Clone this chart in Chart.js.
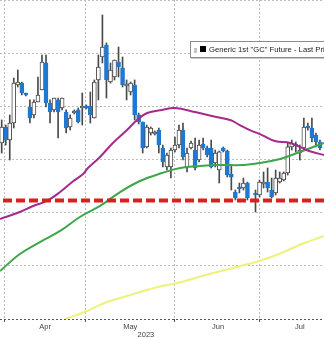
<!DOCTYPE html>
<html>
<head>
<meta charset="utf-8">
<script src="https://cdn.jsdelivr.net/npm/chart.js@4/dist/chart.umd.min.js"></script>
<style>
  html, body { margin: 0; padding: 0; background: #fff; overflow: hidden; }
  #wrap { position: relative; width: 324px; height: 338px; overflow: hidden; }
  #legend {
    position: absolute; left: 190px; top: 41px; width: 160px; height: 15px;
    border: 1px solid #8c8c8c; background: #fff; box-shadow: 1px 1px 0 #c8c8c8;
    font-family: "Liberation Sans", Arial, sans-serif; font-size: 7.7px; line-height: 15px;
    color: #222; white-space: nowrap;
  }
  #legend .g { position: absolute; left: 3px; top: 6px; width: 3px; height: 5px; background: #c4c4c4; }
  #legend .b { position: absolute; left: 9px; top: 4px; width: 6px; height: 6px; background: #000; }
  #legend .t { position: absolute; left: 18px; top: 0; }
</style>
</head>
<body>
<div id="wrap">
  <canvas id="goldCanvas" width="324" height="338"></canvas>
  <div id="legend"><span class="g"></span><span class="b"></span><span class="t">Generic 1st "GC" Future - Last Price</span></div>
</div>
<script>
// daily candles, one per trading day (index = trading day), null = no bar
const opens  = [1965.5,1980.6,1968.3,1984.3,2020.1,2021.9,2012.5,1999.4,1991.9,2004.1,
                2015.4,2040.8,2003.1,1996.6,2006.0,1998.4,1994.7,1980.6,1993.7,1996.6,
                1998.4,2000.3,2000.3,1989.0,2024.8,2046.4,2057.7,2022.9,2027.6,2041.7,
                2036.1,2019.1,2013.5,2020.1,1991.9,1985.3,1961.8,1974.9,1974.0,1977.7,
                1960.8,1943.0,1943.0,1958.9,1963.6,1977.7,1943.0,1960.8,1958.9,1949.5,
                1964.6,1960.8,1960.8,1946.7,1940.1,1960.8,1958.0,1936.4,1919.4,1924.1,
                1923.2,1927.9,null,1918.5,1916.6,1927.0,1928.8,1921.3,1918.5,1928.8,
                1930.7,1937.3,1961.8,1964.6,1956.1,1960.8,1981.5,1979.6,1973.0,1966.5];
const highs  = [1987.2,1982.4,1991.9,2026.6,2034.2,2022.9,2012.5,2006.0,2006.0,2027.6,
                2048.3,2048.3,2006.0,2007.8,2007.8,2007.8,1996.6,1991.9,1996.6,1998.4,
                2012.5,2001.3,2013.5,2024.8,2048.3,2085.9,2059.6,2040.8,2043.6,2055.8,
                2046.4,2024.8,2022.9,2024.8,1993.7,1985.3,1982.4,1980.6,1976.8,1979.6,
                1963.6,1956.1,1960.8,1971.2,1982.4,1984.3,1960.8,1967.4,1970.2,1968.3,
                1970.2,1962.7,1968.3,1958.9,1958.0,1961.8,1958.9,1944.8,1921.3,1927.9,
                1932.6,1928.8,null,1921.3,1930.7,1938.3,1942.0,1932.6,1940.1,1938.3,
                1938.3,1965.5,1968.3,1966.5,1963.6,1989.0,1984.3,1989.0,1974.9,1968.3];
const lows   = [1956.1,1963.6,1949.5,1979.6,2018.2,2010.7,2009.7,1984.3,1989.0,2004.1,
                2015.4,1999.4,1984.3,1994.7,1970.2,1996.6,1974.9,1977.7,1992.8,1984.3,
                1982.4,1997.5,1984.3,1989.0,2006.0,2040.8,2007.8,2021.9,2024.8,2027.6,
                2018.2,2006.0,2010.7,1987.2,1983.4,1956.1,1960.8,1973.0,1973.0,1956.1,
                1943.0,1940.1,1932.6,1957.1,1960.8,1949.5,1938.3,1959.9,1940.1,1947.7,
                1958.9,1952.4,1942.0,1943.0,1927.9,1957.1,1933.5,1921.3,1911.9,1918.5,
                1921.3,1911.9,null,1900.6,1914.7,1923.2,1919.4,1913.8,1916.6,1927.9,
                1929.8,1935.4,1958.9,1957.1,1949.5,1958.9,1977.7,1966.5,1961.8,1958.9];
const closes = [1980.6,1968.3,1984.3,2021.9,2022.9,2012.5,2010.7,1989.0,2004.1,2010.7,
                2041.7,2003.1,1994.7,2007.8,1994.7,2007.8,1979.6,1989.0,1995.6,1985.3,
                2000.3,1998.4,1991.9,2022.9,2037.0,2055.8,2024.8,2034.2,2043.6,2037.0,
                2020.1,2021.0,2021.9,1991.9,1985.3,1960.8,1980.6,1979.6,1975.9,1963.6,
                1947.7,1954.2,1958.9,1963.6,1977.7,1952.4,1956.1,1965.5,1942.0,1963.6,
                1960.8,1954.2,1943.0,1956.1,1957.1,1958.0,1935.4,1933.5,1913.8,1922.3,
                1927.9,1913.8,null,1916.6,1928.8,1928.8,1923.2,1914.7,1932.6,1932.6,
                1937.3,1961.8,1965.5,1962.7,1958.9,1980.6,1979.6,1970.2,1966.5,1960.8];

// moving averages, read at trading-day positions
const ma50X  = [-0.42,4.5,7.8,11.2,14.5,17.5,20.2,21.4,24.4,27.6,31.1,33.6,36.1,39.8,43.0,48.0,52.2,56.7,59.1,61.6,64.6,67.8,71.6,74.0,76.3,80.0];
const ma50Y  = [1894.1,1900.6,1906.3,1911.0,1919.4,1928.8,1936.4,1942.0,1952.4,1965.5,1977.7,1987.1,1993.7,1996.6,1998.4,1994.7,1990.9,1987.1,1982.4,1977.7,1973.0,1967.4,1965.5,1961.8,1958.0,1954.2];
const ma100X = [-0.42,4.5,9.5,14.5,19.4,24.4,29.4,34.3,39.8,44.3,49.2,54.2,59.9,64.1,69.1,74.0,80.0];
const ma100Y = [1845.1,1861.1,1872.4,1882.8,1895.9,1906.3,1919.4,1929.8,1937.3,1942.0,1943.9,1944.8,1944.8,1946.7,1950.5,1957.1,1965.5];
const ma200X = [15.7,21.2,26.1,31.1,35.1,39.8,44.7,49.7,56.4,63.9,68.8,74.5,80.0];
const ma200Y = [1800.0,1807.5,1816.0,1821.6,1826.3,1831.0,1834.8,1840.4,1847.0,1854.5,1861.1,1870.5,1878.1];

const supportLevel = 1911.5;

// axis
const xMin = -0.42, xMax = 80.0;
const yMin = 1800, yMax = 2100, yStep = 50;
const monthStarts = [0.82, 20.9, 43.0, 64.1];
const monthMids = [10.8, 31.9, 53.7, 74.0];
const monthLabels = ["Apr", "May", "Jun", "Jul"];
const yearPos = [35.8];
const yearLabels = ["2023"];

const BLUE = "#1f78d1";
const WICK = "#4a4a4a";
const FONT = "'Liberation Sans', Arial, sans-serif";

const days = opens.map((o, i) => i).filter(i => opens[i] !== null);
const wickData = days.map(i => ({ x: i, y: [lows[i], highs[i]] }));
const bodyData = days.map(i => ({ x: i, y: [opens[i], closes[i]] }));
const bodyFill = days.map(i => closes[i] >= opens[i] ? "#ffffff" : BLUE);
const bodyEdge = days.map(i => closes[i] >= opens[i] ? WICK : BLUE);

const toPoints = (xs, ys) => xs.map((x, k) => ({ x: x, y: ys[k] }));

const goldChart = new Chart(document.getElementById("goldCanvas"), {
    type: "bar",
    data: {
        datasets: [
            {
                type: "line",
                data: [{ x: xMin, y: supportLevel }, { x: xMax, y: supportLevel }],
                borderColor: "#d8201e",
                borderWidth: 4,
                borderDash: [9, 4],
                borderDashOffset: -3,
                pointRadius: 0,
                xAxisID: "x",
                order: 0,
            },
            {
                type: "line",
                data: toPoints(ma50X, ma50Y),
                borderColor: "#a52a8c",
                borderWidth: 2,
                tension: 0.4,
                pointRadius: 0,
                xAxisID: "x",
                order: 0,
            },
            {
                type: "line",
                data: toPoints(ma100X, ma100Y),
                borderColor: "#3ea64a",
                borderWidth: 2,
                tension: 0.4,
                pointRadius: 0,
                xAxisID: "x",
                order: 0,
            },
            {
                type: "line",
                data: toPoints(ma200X, ma200Y),
                borderColor: "#eef27c",
                borderWidth: 2,
                tension: 0.4,
                pointRadius: 0,
                xAxisID: "x",
                order: 0,
            },
            {
                // candle bodies
                data: bodyData,
                backgroundColor: bodyFill,
                borderColor: bodyEdge,
                borderWidth: 1,
                borderSkipped: false,
                barThickness: 4,
                grouped: false,
                xAxisID: "x",
                order: 1,
            },
            {
                // wicks
                data: wickData,
                backgroundColor: WICK,
                borderWidth: 0,
                barThickness: 1,
                grouped: false,
                xAxisID: "x",
                order: 2,
            },
        ],
    },
    options: {
        responsive: false,
        animation: false,
        events: [],
        layout: { padding: 0 },
        plugins: {
            legend: { display: false },
            tooltip: { enabled: false },
        },
        scales: {
            x: {
                type: "linear",
                position: "bottom",
                weight: 0,
                min: xMin,
                max: xMax,
                offset: false,
                afterBuildTicks: (s) => {
                    s.ticks = monthStarts.concat(monthMids).map(v => ({ value: v }));
                },
                ticks: {
                    autoSkip: false,
                    maxRotation: 0,
                    minRotation: 0,
                    padding: 1,
                    color: "#444",
                    font: { family: FONT, size: 7.5, lineHeight: 1 },
                    callback: (v) => {
                        const k = monthMids.indexOf(v);
                        return k >= 0 ? monthLabels[k] : "";
                    },
                },
                grid: {
                    offset: false,
                    lineWidth: 1,
                    tickLength: 3,
                    color: (ctx) => ctx.tick && monthStarts.includes(ctx.tick.value) ? "#bdbdbd" : "rgba(0,0,0,0)",
                    tickColor: (ctx) => ctx.tick && monthStarts.includes(ctx.tick.value) ? "#555" : "rgba(0,0,0,0)",
                },
                border: { display: false, dash: [2, 2] },
            },
            xYear: {
                type: "linear",
                position: "bottom",
                weight: 1,
                min: xMin,
                max: xMax,
                offset: false,
                afterBuildTicks: (s) => {
                    s.ticks = yearPos.map(v => ({ value: v }));
                },
                ticks: {
                    autoSkip: false,
                    maxRotation: 0,
                    minRotation: 0,
                    padding: -0.5,
                    color: "#444",
                    font: { family: FONT, size: 7.5, lineHeight: 1 },
                    callback: (v) => yearLabels[yearPos.indexOf(v)] || "",
                },
                grid: { display: false, drawTicks: false },
                border: { display: false },
            },
            y: {
                type: "linear",
                min: yMin,
                max: yMax,
                ticks: { display: false, stepSize: yStep },
                grid: {
                    drawTicks: false,
                    lineWidth: 1,
                    color: (ctx) => ctx.tick && ctx.tick.value === yMin ? "#555" : "#bdbdbd",
                },
                border: { display: false, dash: [2, 2] },
            },
        },
    },
});
</script>
</body>
</html>
